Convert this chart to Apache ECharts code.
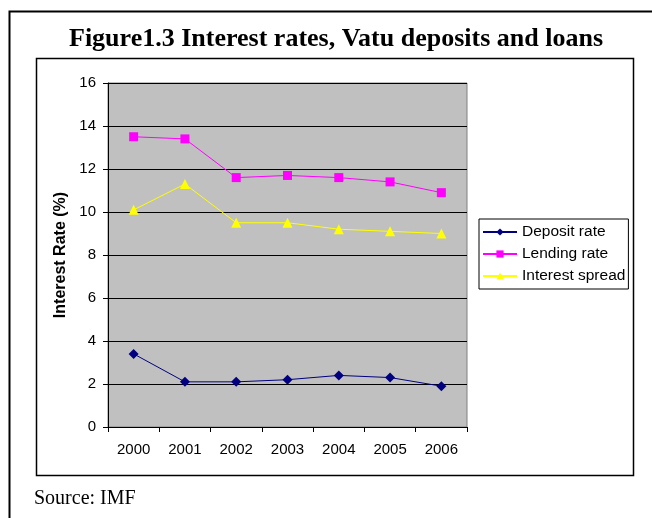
<!DOCTYPE html>
<html><head><meta charset="utf-8">
<script src="https://cdn.jsdelivr.net/npm/echarts@6/dist/echarts.min.js"></script>
<style>html,body{margin:0;padding:0;background:#fff}#c{width:652px;height:518px}</style>
</head><body><div id="c"></div>
<script>
const years = ['2000','2001','2002','2003','2004','2005','2006'];
const depositRate = [3.4, 2.1, 2.1, 2.2, 2.4, 2.3, 1.9];
const lendingRate = [13.5, 13.4, 11.6, 11.7, 11.6, 11.4, 10.9];
const interestSpread = [10.1, 11.3, 9.5, 9.5, 9.2, 9.1, 9.0];

const chart = echarts.init(document.getElementById('c'), null, {renderer:'canvas'});
const axisFont = {fontFamily:'Liberation Sans, Arial, sans-serif', fontSize:15, color:'#000'};
chart.setOption({
  animation:false,
  backgroundColor:'#fff',
  title:[{
    text:'Figure1.3 Interest rates, Vatu deposits and loans',
    left:64, top:21,
    textStyle:{fontFamily:'Liberation Serif, Times New Roman, serif', fontWeight:'bold', fontSize:26, color:'#000'}
  },{
    text:'Source: IMF', left:29, top:484,
    textStyle:{fontFamily:'Liberation Serif, Times New Roman, serif', fontWeight:'normal', fontSize:20, color:'#000'}
  }],
  graphic:[
    {type:'polyline', shape:{points:[[9.5,520],[9.5,11.5],[655,11.5]]}, style:{stroke:'#000', lineWidth:2, fill:null}, z:-1},
    {type:'rect', shape:{x:36.5, y:58.5, width:597, height:417}, style:{stroke:'#000', lineWidth:1.5, fill:null}, z:-1}
  ],
  legend:{
    orient:'vertical', left:479, top:219,
    itemWidth:34, itemHeight:9, itemGap:6,
    padding:[5,3,5,3],
    borderColor:'#000', borderWidth:1,
    textStyle:{fontFamily:'Liberation Sans, Arial, sans-serif', fontSize:15.5, color:'#000'},
    data:['Deposit rate','Lending rate','Interest spread']
  },
  grid:{left:108, right:185, top:83, bottom:91, show:true, backgroundColor:'#C0C0C0', borderColor:'#808080', borderWidth:1},
  xAxis:{
    type:'category', data:years, boundaryGap:true,
    axisLine:{lineStyle:{color:'#000', width:1}},
    axisTick:{show:true, alignWithLabel:false, length:5, lineStyle:{color:'#000'}},
    axisLabel:Object.assign({margin:15}, axisFont)
  },
  yAxis:{
    type:'value', min:0, max:16, interval:2,
    name:'Interest Rate (%)', nameLocation:'middle', nameGap:36,
    nameTextStyle:{fontFamily:'Liberation Sans, Arial, sans-serif', fontWeight:'bold', fontSize:16, color:'#000'},
    axisLine:{show:true, lineStyle:{color:'#000', width:1}},
    axisTick:{show:true, length:5, lineStyle:{color:'#000'}},
    axisLabel:Object.assign({margin:12}, axisFont),
    splitLine:{show:true, lineStyle:{color:'#000', width:1}}
  },
  series:[
    {name:'Deposit rate', type:'line', data:depositRate, symbol:'diamond', symbolSize:10,
     itemStyle:{color:'#000080'}, lineStyle:{color:'#000080', width:1}},
    {name:'Lending rate', type:'line', data:lendingRate, symbol:'rect', symbolSize:9,
     itemStyle:{color:'#FF00FF'}, lineStyle:{color:'#FF00FF', width:1}},
    {name:'Interest spread', type:'line', data:interestSpread, symbol:'triangle', symbolSize:10,
     itemStyle:{color:'#FFFF00'}, lineStyle:{color:'#FFFF00', width:1}}
  ]
});
</script></body></html>
